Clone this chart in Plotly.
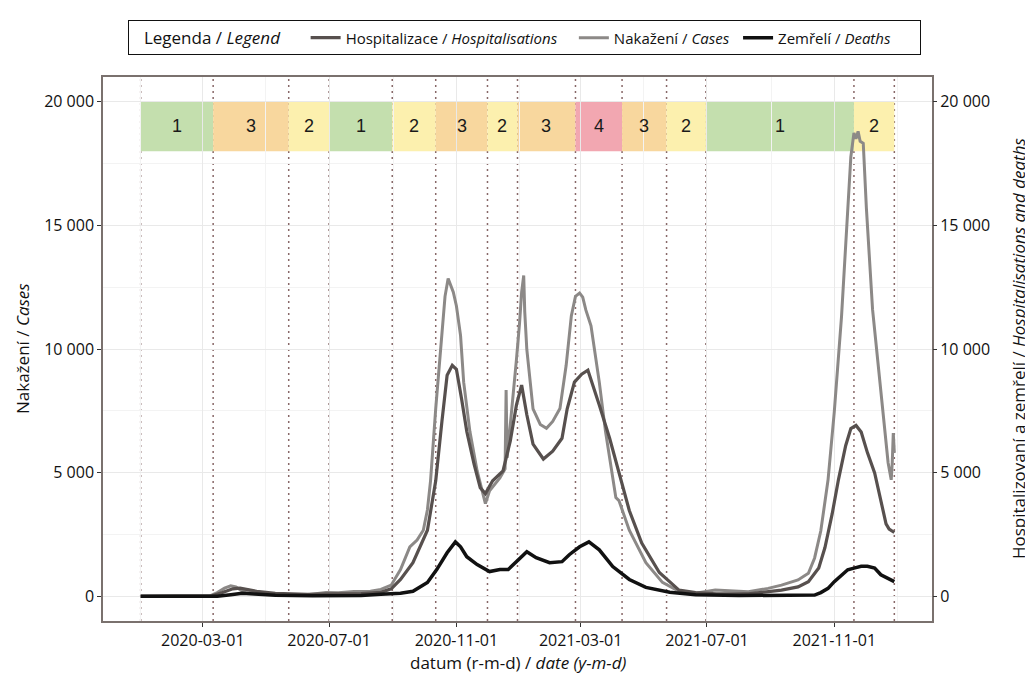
import plotly.graph_objects as go
import pandas as pd

# ---------------- data ----------------
cases_dates = ["2020-01-01","2020-02-29","2020-03-08","2020-03-15","2020-03-22","2020-03-28","2020-04-02","2020-04-08",
    "2020-04-14","2020-04-20","2020-04-28","2020-05-15","2020-06-10","2020-06-28","2020-07-10","2020-07-25","2020-08-10",
    "2020-08-20","2020-08-30","2020-09-08","2020-09-13","2020-09-17","2020-09-24","2020-09-30","2020-10-04","2020-10-07",
    "2020-10-12","2020-10-17","2020-10-21","2020-10-24","2020-10-27","2020-10-29","2020-11-01","2020-11-05","2020-11-08",
    "2020-11-14","2020-11-21","2020-11-27","2020-11-29","2020-12-03","2020-12-08","2020-12-13","2020-12-18","2020-12-19",
    "2020-12-20","2020-12-22","2020-12-26","2020-12-29","2021-01-01","2021-01-03","2021-01-05","2021-01-06","2021-01-08",
    "2021-01-14","2021-01-21","2021-01-27","2021-02-02","2021-02-09","2021-02-15","2021-02-20","2021-02-24","2021-02-28",
    "2021-03-03","2021-03-06","2021-03-11","2021-03-19","2021-03-25","2021-04-01","2021-04-04","2021-04-07","2021-04-17",
    "2021-05-03","2021-05-19","2021-06-04","2021-06-20","2021-07-09","2021-08-10","2021-08-29","2021-09-11","2021-09-27",
    "2021-10-07","2021-10-13","2021-10-19","2021-10-26","2021-11-01","2021-11-08","2021-11-12","2021-11-17","2021-11-20",
    "2021-11-22","2021-11-24","2021-11-26","2021-11-29","2021-12-02","2021-12-08","2021-12-16","2021-12-23","2021-12-26",
    "2021-12-27","2021-12-28","2021-12-29"]
cases_values = [0,0,20,150,330,420,380,220,
    250,170,90,70,60,150,140,190,200,
    280,450,1080,1600,2000,2275,2670,3500,4670,
    7590,9980,12130,12850,12500,12300,11740,10540,8660,
    6670,5070,3990,3750,4270,4550,4790,5150,8340,
    5600,6500,7980,9580,11060,12300,12970,11500,9980,
    7580,6950,6790,7070,7590,9340,11340,12130,12260,
    12100,11580,10940,8660,6670,4670,3990,3870,2670,
    1360,560,200,120,250,180,320,450,660,
    930,1550,2650,4710,7460,11310,14340,17770,18740,
    18500,18800,18400,18320,15710,11590,8150,5400,4710,
    5400,6600,5800]

hosp_dates = ["2020-01-01","2020-03-01","2020-03-10","2020-03-20","2020-03-30","2020-04-06","2020-04-14","2020-04-22",
    "2020-05-10","2020-06-10","2020-07-05","2020-08-01","2020-08-20","2020-08-30","2020-09-08","2020-09-20","2020-10-04",
    "2020-10-12","2020-10-18","2020-10-23","2020-10-28","2020-11-01","2020-11-06","2020-11-11","2020-11-18","2020-11-24",
    "2020-11-29","2020-12-06","2020-12-16","2020-12-23","2020-12-29","2021-01-03","2021-01-08","2021-01-14","2021-01-24",
    "2021-02-02","2021-02-11","2021-02-16","2021-02-23","2021-03-02","2021-03-08","2021-03-12","2021-03-19","2021-03-29",
    "2021-04-07","2021-04-17","2021-04-29","2021-05-16","2021-06-04","2021-06-20","2021-07-10","2021-08-10","2021-09-11",
    "2021-09-27","2021-10-07","2021-10-17","2021-10-23","2021-10-30","2021-11-05","2021-11-12","2021-11-17","2021-11-22",
    "2021-11-27","2021-12-03","2021-12-10","2021-12-16","2021-12-21","2021-12-24","2021-12-29"]
hosp_values = [0,0,20,150,300,330,260,200,
    120,80,100,110,160,300,680,1360,2670,
    4670,7070,8940,9340,9180,7980,6670,5350,4390,
    4150,4670,5070,6270,7740,8540,7340,6150,5550,
    5870,6390,7580,8660,8980,9140,8660,7740,6390,
    4950,3470,2150,960,250,150,100,100,250,
    380,590,1140,1970,3340,4710,6090,6780,6910,
    6640,5810,4990,3890,2930,2720,2580]

deaths_dates = ["2020-01-01","2020-03-15","2020-03-28","2020-04-08","2020-04-20","2020-05-10","2020-06-15","2020-08-01",
    "2020-08-20","2020-09-08","2020-09-20","2020-10-04","2020-10-13","2020-10-23","2020-10-31","2020-11-05","2020-11-11",
    "2020-11-21","2020-12-03","2020-12-13","2020-12-21","2020-12-29","2021-01-08","2021-01-17","2021-01-30","2021-02-11",
    "2021-02-18","2021-02-28","2021-03-09","2021-03-19","2021-04-01","2021-04-17","2021-05-03","2021-05-26","2021-06-20",
    "2021-08-01","2021-10-13","2021-10-19","2021-10-26","2021-11-01","2021-11-08","2021-11-14","2021-11-20","2021-11-27",
    "2021-12-03","2021-12-10","2021-12-16","2021-12-23","2021-12-29"]
deaths_values = [0,0,60,120,90,40,20,30,
    80,120,200,560,1080,1760,2200,2000,1600,
    1280,1000,1080,1080,1400,1800,1560,1360,1400,
    1680,2000,2200,1880,1200,680,360,160,60,
    30,50,150,320,590,870,1070,1140,1210,
    1210,1140,870,730,590]

phase_bounds = ["2020-01-01","2020-03-11","2020-05-23","2020-07-01","2020-08-31","2020-10-12","2020-12-01",
                "2020-12-30","2021-02-24","2021-04-10","2021-05-23","2021-06-30","2021-11-20","2021-12-29"]
phase_levels = [1,3,2,1,2,3,2,3,4,3,2,1,2]
level_colors = {1: "#C4DFAE", 2: "#FCF0AE", 3: "#F8D79E", 4: "#F2A7B1"}
band_low, band_high = 18000, 20000

x_ticks = ["2020-03-01","2020-07-01","2020-11-01","2021-03-01","2021-07-01","2021-11-01"]
x_minor = ["2020-01-01","2020-05-01","2020-09-01","2021-01-01","2021-05-01","2021-09-01","2022-01-01"]
y_ticks = [0, 5000, 10000, 15000, 20000]
y_ticktext = ["0", "5 000", "10 000", "15 000", "20 000"]
y_minor = [2500, 7500, 12500, 17500]

# ---------------- figure ----------------
FONT = "Open Sans, Noto Sans, sans-serif"
NB = "\u00a0"
fig = go.Figure()

fig.add_trace(go.Scatter(x=cases_dates, y=cases_values, mode="lines",
    name="Nakažení / <i>Cases</i>" + NB, line=dict(color="#8c8987", width=3), legendrank=2, yaxis="y"))
fig.add_trace(go.Scatter(x=hosp_dates, y=hosp_values, mode="lines",
    name="Hospitalizace / <i>Hospitalisations</i>" + NB * 3, line=dict(color="#57504e", width=3.2),
    legendrank=1, yaxis="y2"))
fig.add_trace(go.Scatter(x=deaths_dates, y=deaths_values, mode="lines",
    name="Zemřelí / <i>Deaths</i>" + NB * 6, line=dict(color="#111111", width=3.5), legendrank=3, yaxis="y2"))

shapes = []
annotations = []
for i, lvl in enumerate(phase_levels):
    x0, x1 = phase_bounds[i], phase_bounds[i + 1]
    shapes.append(dict(type="rect", xref="x", yref="y", x0=x0, x1=x1, y0=band_low, y1=band_high,
                       fillcolor=level_colors[lvl], line=dict(width=0), layer="below"))
    mid = pd.Timestamp(x0) + (pd.Timestamp(x1) - pd.Timestamp(x0)) / 2
    annotations.append(dict(x=mid, y=(band_low + band_high) / 2, xref="x", yref="y", text=str(lvl),
                            showarrow=False,
                            font=dict(family="Liberation Sans, Arial, sans-serif", size=18, color="#1a1a1a")))
for b in phase_bounds:
    shapes.append(dict(type="line", xref="x", yref="paper", x0=b, x1=b, y0=0, y1=1,
                       line=dict(color="rgba(115,78,78,0.85)", width=1.5, dash="2px,4px"), layer="below"))

TITLE_FONT = dict(family=FONT, size=17, color="#111")
annotations.append(dict(text="Nakažení / <i>Cases</i>", xref="paper", yref="paper", x=0, y=0.5,
                        xshift=-81, textangle=-90, showarrow=False, xanchor="center", yanchor="middle",
                        font=TITLE_FONT))
annotations.append(dict(text="Hospitalizovaní a zemřelí / <i>Hospitalisations and deaths</i>", xref="paper",
                        yref="paper", x=1, y=0.5, xshift=86, textangle=-90, showarrow=False,
                        xanchor="center", yanchor="middle", font=TITLE_FONT))
annotations.append(dict(text="datum (r-m-d) / <i>date (y-m-d)</i>", xref="paper", yref="paper", x=0.5, y=0,
                        yshift=-41, showarrow=False, xanchor="center", yanchor="middle", font=TITLE_FONT))

start, end = pd.Timestamp(phase_bounds[0]), pd.Timestamp(phase_bounds[-1])
pad = (end - start) * 0.05
GRID = "#e9e9e9"
AXLINE = "#7a716e"
TICK_FONT = dict(family=FONT, size=16, color="#111")

# page body has an 8px margin: figure is 1025x667 so the panel lands at x 103-932, y 72-621
fig.update_layout(
    width=1025, height=667, autosize=False,
    margin=dict(l=95, r=101, t=64, b=54),
    paper_bgcolor="white", plot_bgcolor="white",
    font=dict(family=FONT, size=15, color="#111"),
    shapes=shapes, annotations=annotations,
    showlegend=True,
    legend=dict(orientation="h", x=0.508, xanchor="center", y=1.104, yanchor="top",
                bordercolor="#111", borderwidth=1, bgcolor="white",
                font=dict(family=FONT, size=15, color="#111"),
                title=dict(text=NB * 3 + "Legenda / <i>Legend</i>" + NB * 4,
                           font=dict(family=FONT, size=17, color="#111")),
                itemwidth=30),
    xaxis=dict(type="date", range=[start - pad, end + pad], tickvals=x_ticks, ticktext=x_ticks,
               showgrid=True, gridcolor=GRID, gridwidth=1, zeroline=False,
               minor=dict(tickvals=x_minor, showgrid=True, gridcolor="#f3f3f3", gridwidth=1),
               showline=True, linecolor=AXLINE, linewidth=1.5, mirror=True,
               ticks="outside", ticklen=4, tickcolor="#333", tickwidth=1.3,
               tickfont=TICK_FONT),
    yaxis=dict(range=[-1000, 21000], tickvals=y_ticks, ticktext=y_ticktext,
               showgrid=True, gridcolor=GRID, gridwidth=1, zeroline=False,
               minor=dict(tickvals=y_minor, showgrid=True, gridcolor="#f3f3f3", gridwidth=1),
               showline=True, linecolor=AXLINE, linewidth=1.5, mirror=True,
               ticks="outside", ticklen=4, tickcolor="#333", tickwidth=1.3,
               tickfont=TICK_FONT),
    yaxis2=dict(range=[-1000, 21000], overlaying="y", side="right", tickvals=y_ticks, ticktext=y_ticktext,
                showgrid=False, zeroline=False, showline=False,
                ticks="outside", ticklen=4, tickcolor="#333", tickwidth=1.3,
                tickfont=TICK_FONT),
)

fig.write_html("out.html")
